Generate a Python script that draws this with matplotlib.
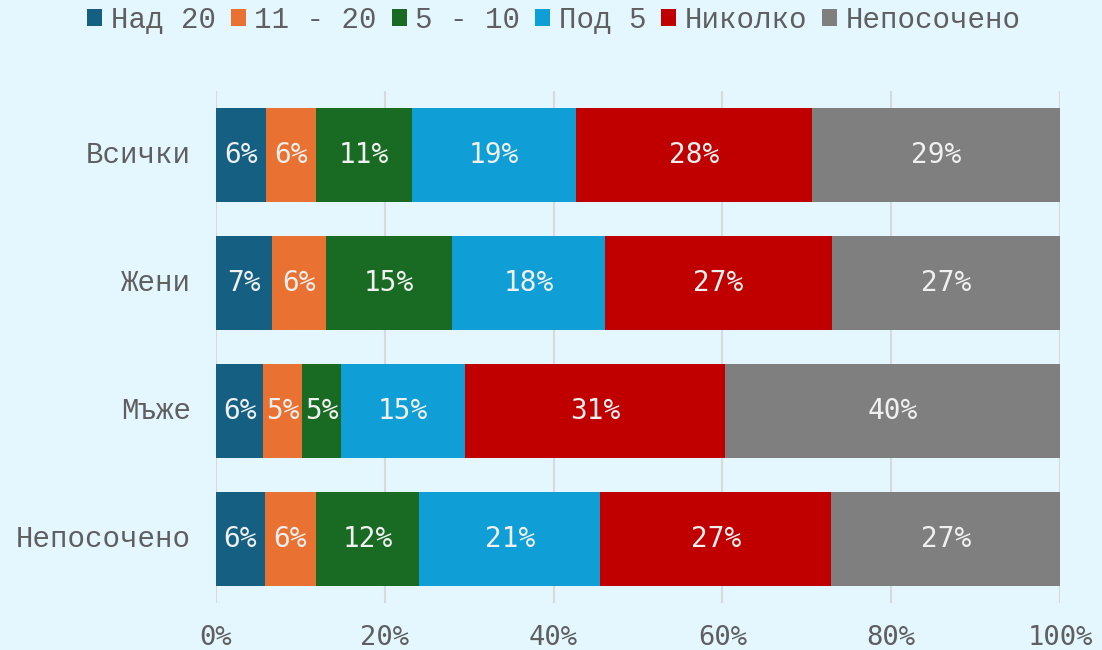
import numpy as np
import matplotlib.pyplot as plt

# данни (проценти)
categories = ["Всички", "Жени", "Мъже", "Непосочено"]
series_names = ["Над 20", "11 - 20", "5 - 10", "Под 5", "Николко", "Непосочено"]
nad20 = [5.9, 6.6, 5.6, 5.8]
s11_20 = [5.9, 6.4, 4.6, 6.0]
s5_10 = [11.4, 15.0, 4.6, 12.3]
pod5 = [19.4, 18.1, 14.7, 21.4]
nikolko = [28.0, 26.9, 30.8, 27.4]
neposocheno = [29.4, 27.0, 39.7, 27.1]
series_values = [nad20, s11_20, s5_10, pod5, nikolko, neposocheno]
colors = ["#156082", "#E97132", "#196B24", "#0F9ED5", "#C00000", "#7F7F7F"]

bg = "#E4F6FE"
txt = "#5F5F5F"
mono_serif = "Liberation Mono"
mono_sans = "DejaVu Sans Mono"

fig = plt.figure(figsize=(11.02, 6.5), dpi=100, facecolor=bg)
ax = fig.add_axes([216 / 1102, 47 / 650, 844 / 1102, 512 / 650], facecolor=bg)

y = np.arange(len(categories))
left = np.zeros(len(categories))
for name, vals, c in zip(series_names, series_values, colors):
    bars = ax.barh(y, vals, left=left, height=0.742, color=c, label=name, zorder=3)
    ax.bar_label(bars, labels=[f"{v:.0f}%" for v in vals], label_type="center",
                 color="#F0F0F0", fontsize=20, family=mono_sans)
    left += np.array(vals)

ax.set_xlim(0, 100)
ax.set_ylim(3.5, -0.5)
ax.set_xticks(np.arange(0, 101, 20))
ax.set_xticklabels([f"{t}%" for t in range(0, 101, 20)], family=mono_sans, fontsize=19.5, color=txt)
ax.set_yticks(y)
ax.set_yticklabels(categories, family=mono_serif, fontsize=21, color=txt, va="center")
ax.tick_params(axis="both", length=0)
ax.tick_params(axis="x", pad=16)
ax.tick_params(axis="y", pad=18)
ax.grid(axis="x", color="#D9D9D9", linewidth=1.5, zorder=0)
for s in ax.spines.values():
    s.set_visible(False)

fig.legend(loc="center", bbox_to_anchor=(554 / 1102, 1 - 20 / 650), ncol=6, frameon=False,
           prop={"family": mono_serif, "size": 21}, labelcolor=txt,
           handlelength=0.52, handleheight=0.52, handletextpad=0.3, columnspacing=0.5)

fig.savefig("out.png", dpi=100, facecolor=bg)
